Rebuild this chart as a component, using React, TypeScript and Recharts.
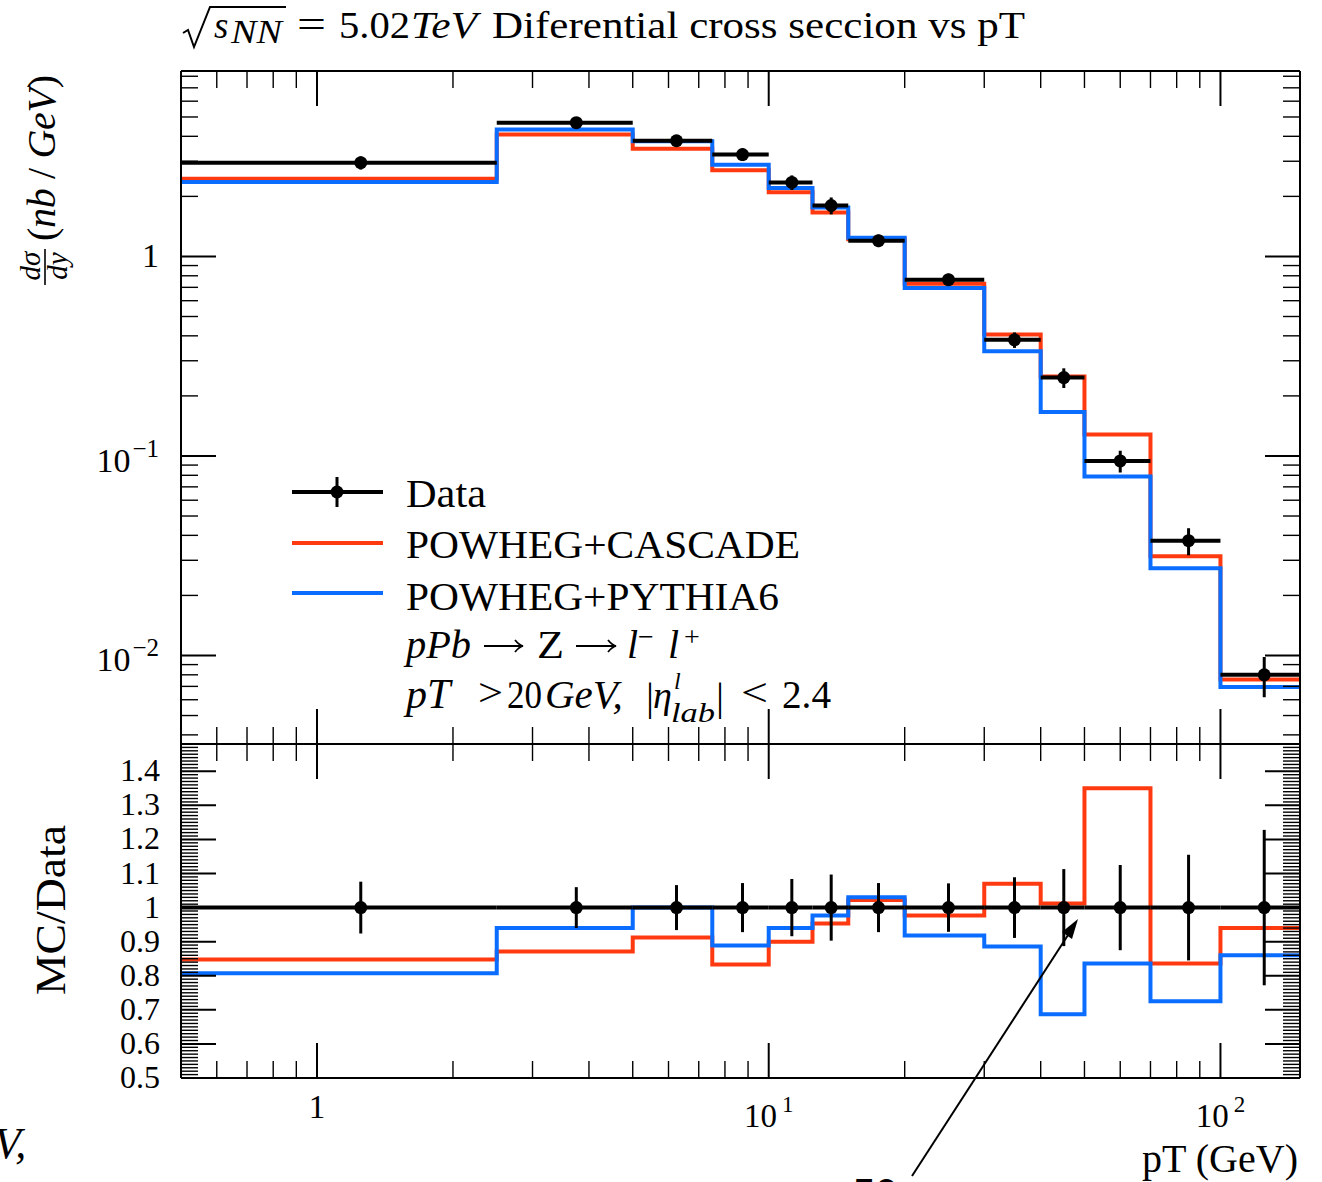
import React from "react";
import { ComposedChart, Line, Scatter, ErrorBar, XAxis, YAxis } from "recharts";

// pT binning in GeV; the first bin starts at 0 but the axis only opens at 0.5
const binEdges = [0, 2.5, 5, 7.5, 10, 12.5, 15, 20, 30, 40, 50, 70, 100, 150];
const binCentres = [1.25, 3.75, 6.25, 8.75, 11.25, 13.75, 17.5, 25, 35, 45, 60, 85, 125];

// dσ/dy in nb/GeV
const dataXsec = [2.95, 4.68, 3.8, 3.24, 2.35, 1.8, 1.2, 0.765, 0.382, 0.247, 0.0944, 0.0376, 0.008];
const dataRelErr = [0.076, 0.06, 0.066, 0.072, 0.084, 0.097, 0.072, 0.071, 0.089, 0.113, 0.125, 0.155, 0.228];
const cascadeXsec = [2.45, 4.09, 3.47, 2.7, 2.1, 1.66, 1.22, 0.73, 0.406, 0.25, 0.128, 0.0314, 0.00758];
const pythiaXsec = [2.36, 4.33, 3.78, 2.88, 2.2, 1.76, 1.24, 0.695, 0.335, 0.166, 0.0788, 0.0274, 0.00695];

// MC / Data
const dataRatio = [1, 1, 1, 1, 1, 1, 1, 1, 1, 1, 1, 1, 1];
const cascadeRatio = [0.848, 0.871, 0.912, 0.833, 0.9, 0.953, 1.022, 0.977, 1.07, 1.012, 1.35, 0.836, 0.94];
const pythiaRatio = [0.807, 0.94, 1.0, 0.889, 0.94, 0.977, 1.03, 0.918, 0.886, 0.687, 0.836, 0.725, 0.86];

// labelled ticks
const xTickValues = [1, 10, 100];
const xTickBase = ["1", "10", "10"];
const xTickExp = ["", "1", "2"];
const xsecTickValues = [0.01, 0.1, 1];
const xsecTickBase = ["10", "10", "1"];
const xsecTickExp = ["−2", "−1", ""];
const ratioTickValues = [0.5, 0.6, 0.7, 0.8, 0.9, 1, 1.1, 1.2, 1.3, 1.4];
const ratioTickLabels = ["0.5", "0.6", "0.7", "0.8", "0.9", "1", "1.1", "1.2", "1.3", "1.4"];

const X_MIN = 0.5;
const X_MAX = 150;
const XSEC_MIN = 0.0036;
const XSEC_MAX = 8.5;
const RATIO_MIN = 0.5;
const RATIO_MAX = 1.48;

const FONT = '"Liberation Serif", "Times New Roman", serif';
const RED = "#ff3a10";
const BLUE = "#0a6dff";
const MAJOR_LEN = 35;
const MINOR_LEN = 17;

// 1..9 x 10^n inside [min, max]
function logTicks(min: number, max: number) {
  const out: number[] = [];
  for (let e = Math.floor(Math.log10(min)); e <= Math.ceil(Math.log10(max)); e++) {
    for (let m = 1; m <= 9; m++) {
      const v = parseFloat((m * Math.pow(10, e)).toPrecision(6));
      if (v >= min && v <= max) out.push(v);
    }
  }
  return out;
}

const xTicks = logTicks(X_MIN, X_MAX);
const xsecTicks = logTicks(XSEC_MIN, XSEC_MAX);
const ratioTicks: number[] = [];
for (let i = 50; i <= 148; i++) ratioTicks.push(i / 100);

const findTick = (list: number[], v: number) =>
  list.findIndex((m) => Math.abs(v - m) <= 1e-6 * Math.max(1, m));

type Side = "left" | "right" | "top" | "bottom";

// inward tick marks, long on the labelled values
function axisTick(
  side: Side,
  majors: number[],
  label?: (v: number, x: number, y: number) => React.ReactNode
) {
  return (props: any) => {
    const { x, y, payload } = props;
    const v = payload.value as number;
    const major = findTick(majors, v) >= 0;
    const len = major ? MAJOR_LEN : MINOR_LEN;
    const dx = side === "left" ? len : side === "right" ? -len : 0;
    const dy = side === "top" ? len : side === "bottom" ? -len : 0;
    return (
      <g>
        <line x1={x} y1={y} x2={x + dx} y2={y + dy} stroke="#000" strokeWidth={major ? 2 : 1.4} />
        {label ? label(v, x, y) : null}
      </g>
    );
  };
}

const xLabel = (v: number, x: number, y: number) => {
  const i = findTick(xTickValues, v);
  if (i < 0) return null;
  return (
    <text x={x} y={y + (xTickExp[i] ? 49 : 40)} textAnchor="middle" fontFamily={FONT} fontSize={33} fill="#000">
      {xTickBase[i]}
      {xTickExp[i] ? (
        <tspan fontSize={23} dx={5} dy={-15}>
          {xTickExp[i]}
        </tspan>
      ) : null}
    </text>
  );
};

const xsecLabel = (v: number, x: number, y: number) => {
  const i = findTick(xsecTickValues, v);
  if (i < 0) return null;
  return (
    <text x={x - 22} y={y + (xsecTickExp[i] ? 16 : 11)} textAnchor="end" fontFamily={FONT} fontSize={34} fill="#000">
      {xsecTickBase[i]}
      {xsecTickExp[i] ? (
        <tspan fontSize={25} dx={2} dy={-15}>
          {xsecTickExp[i]}
        </tspan>
      ) : null}
    </text>
  );
};

const ratioLabel = (v: number, x: number, y: number) => {
  const i = findTick(ratioTickValues, v);
  if (i < 0) return null;
  return (
    <text x={x - 21} y={y + 10} textAnchor="end" fontFamily={FONT} fontSize={32} fill="#000">
      {ratioTickLabels[i]}
    </text>
  );
};

const AXIS_LINE = { stroke: "#000", strokeWidth: 2 };

// four framed axes sharing the log pT scale
function frameAxes(
  yDomain: [number, number],
  yScale: "log" | "linear",
  yTicks: number[],
  yMajors: number[],
  yLabel: (v: number, x: number, y: number) => React.ReactNode,
  bottomHeight: number,
  xBottomLabel?: (v: number, x: number, y: number) => React.ReactNode
) {
  const common = {
    allowDataOverflow: true,
    interval: 0 as const,
    tickSize: 0,
    tickMargin: 0,
    tickLine: false,
    axisLine: AXIS_LINE,
  };
  return [
    <XAxis key="xb" xAxisId="b" orientation="bottom" type="number" scale="log" dataKey="pt"
      domain={[X_MIN, X_MAX]} ticks={xTicks} height={bottomHeight}
      tick={axisTick("bottom", xTickValues, xBottomLabel)} {...common} />,
    <XAxis key="xt" xAxisId="t" orientation="top" type="number" scale="log" dataKey="pt"
      domain={[X_MIN, X_MAX]} ticks={xTicks} height={20}
      tick={axisTick("top", xTickValues)} {...common} />,
    <YAxis key="yl" yAxisId="l" orientation="left" type="number" scale={yScale}
      domain={yDomain} ticks={yTicks} width={100}
      tick={axisTick("left", yMajors, yLabel)} {...common} />,
    <YAxis key="yr" yAxisId="r" orientation="right" type="number" scale={yScale}
      domain={yDomain} ticks={yTicks} width={20}
      tick={axisTick("right", yMajors)} {...common} />,
  ];
}

const steps = (vals: number[]) =>
  vals
    .map((v, i) => ({ pt: Math.max(binEdges[i], X_MIN), v }))
    .concat([{ pt: binEdges[binEdges.length - 1], v: vals[vals.length - 1] }]);

const points = (vals: number[]) =>
  vals.map((v, i) => {
    const lo = Math.max(binEdges[i], X_MIN);
    const x = binCentres[i];
    return { pt: x, v, ex: [x - lo, binEdges[i + 1] - x], ey: v * dataRelErr[i] };
  });

const dot = (props: any) => <circle cx={props.cx} cy={props.cy} r={6.5} fill="#000" />;

function histLine(key: string, vals: number[], color: string) {
  return (
    <Line key={key} data={steps(vals)} dataKey="v" xAxisId="b" yAxisId="l" type="stepAfter"
      stroke={color} strokeWidth={4} dot={false} activeDot={false} isAnimationActive={false} />
  );
}

function dataPoints(vals: number[]) {
  return (
    <Scatter key="data" data={points(vals)} dataKey="v" xAxisId="b" yAxisId="l"
      shape={dot} isAnimationActive={false}>
      <ErrorBar dataKey="ex" direction="x" width={0} stroke="#000" strokeWidth={4} />
      <ErrorBar dataKey="ey" direction="y" width={0} stroke="#000" strokeWidth={3} />
    </Scatter>
  );
}

// text arrow "→" drawn as a stroke so it keeps the long math shape
const mathArrow = (x0: number, x1: number, y: number) => (
  <g stroke="#000" strokeWidth={1.8} fill="none">
    <line x1={x0} y1={y} x2={x1} y2={y} />
    <path d={`M${x1 - 8} ${y - 6} Q${x1 - 4} ${y - 1} ${x1} ${y} Q${x1 - 4} ${y + 1} ${x1 - 8} ${y + 6}`} />
  </g>
);

function Annotations() {
  const it = { fontStyle: "italic" as const };
  const fit = "spacingAndGlyphs";
  return (
    <svg width={1322} height={1182} fontFamily={FONT} fill="#000"
      style={{ position: "absolute", left: 0, top: 0, pointerEvents: "none" }}>
      {/* title */}
      <path d="M183 33 L188 30 L194 47 L210 7 L286 7" fill="none" stroke="#000" strokeWidth={2} />
      <text x={214} y={38} fontSize={37} {...it}>s</text>
      <text x={231} y={43} fontSize={33} textLength={51} lengthAdjust={fit} {...it}>NN</text>
      <text x={297} y={37} fontSize={37} textLength={29} lengthAdjust={fit}>=</text>
      <text x={339} y={38} fontSize={37} textLength={71} lengthAdjust={fit}>5.02</text>
      <text x={411} y={38} fontSize={38} textLength={66} lengthAdjust={fit} {...it}>TeV</text>
      <text x={492} y={38} fontSize={37} textLength={533} lengthAdjust={fit}>
        Diferential cross seccion vs pT
      </text>

      {/* y title, upper panel */}
      <text transform="translate(40,266) rotate(-90)" textAnchor="middle" fontSize={29} {...it}>dσ</text>
      <line x1={45} y1={249} x2={45} y2={285} stroke="#000" strokeWidth={1.6} />
      <text transform="translate(67,266) rotate(-90)" textAnchor="middle" fontSize={29} {...it}>dy</text>
      <text transform="translate(55,158) rotate(-90)" textAnchor="middle" fontSize={40}
        textLength={166} lengthAdjust="spacing">
        (<tspan {...it}>nb</tspan> / <tspan {...it}>GeV</tspan>)
      </text>

      {/* y title, ratio panel */}
      <text transform="translate(65,910) rotate(-90)" textAnchor="middle" fontSize={42}
        textLength={170} lengthAdjust={fit}>MC/Data</text>

      {/* x title */}
      <text x={1142} y={1172} fontSize={40} textLength={156} lengthAdjust={fit}>pT (GeV)</text>

      {/* legend */}
      <line x1={292} y1={492} x2={383} y2={492} stroke="#000" strokeWidth={4} />
      <line x1={337} y1={477} x2={337} y2={507} stroke="#000" strokeWidth={3} />
      <circle cx={337} cy={492} r={6.5} fill="#000" />
      <text x={406} y={507} fontSize={40} textLength={80} lengthAdjust={fit}>Data</text>
      <line x1={292} y1={543} x2={383} y2={543} stroke={RED} strokeWidth={4} />
      <text x={406} y={558} fontSize={40} textLength={394} lengthAdjust={fit}>POWHEG+CASCADE</text>
      <line x1={292} y1={593} x2={383} y2={593} stroke={BLUE} strokeWidth={4} />
      <text x={406} y={610} fontSize={40} textLength={373} lengthAdjust={fit}>POWHEG+PYTHIA6</text>

      <text x={406} y={658} fontSize={40} textLength={65} lengthAdjust={fit} {...it}>pPb</text>
      {mathArrow(484, 523, 646)}
      <text x={537} y={658} fontSize={40} textLength={27} lengthAdjust={fit}>Z</text>
      {mathArrow(576, 616, 646)}
      <text x={627} y={658} fontSize={40} {...it}>l</text>
      <text x={638} y={646} fontSize={28}>−</text>
      <text x={668} y={658} fontSize={40} {...it}>l</text>
      <text x={684} y={646} fontSize={28}>+</text>

      <text x={406} y={708} fontSize={42} {...it}>pT</text>
      <text x={478} y={706} fontSize={40} textLength={25} lengthAdjust={fit}>&gt;</text>
      <text x={507} y={708} fontSize={40} textLength={35} lengthAdjust={fit}>20</text>
      <text x={545} y={708} fontSize={41} {...it}>GeV,</text>
      <text x={646} y={710} fontSize={40}>|</text>
      <text x={653} y={708} fontSize={38} {...it}>η</text>
      <text x={674} y={689} fontSize={24} {...it}>l</text>
      <text x={671} y={722} fontSize={28} textLength={44} lengthAdjust={fit} {...it}>lab</text>
      <text x={716} y={710} fontSize={40}>|</text>
      <text x={741} y={706} fontSize={40} textLength={27} lengthAdjust={fit}>&lt;</text>
      <text x={782} y={708} fontSize={40} textLength={49} lengthAdjust={fit}>2.4</text>

      {/* pointer arrow and page leftovers */}
      <line x1={912} y1={1176} x2={1070} y2={932} stroke="#000" strokeWidth={2} />
      <polygon points="1078,919 1072,939 1062,932" fill="#000" />
      <text x={853} y={1207} fontSize={40} fontFamily='"Liberation Sans", sans-serif'>50</text>
      <text x={-6} y={1158} fontSize={44} {...it}>V,</text>
    </svg>
  );
}

export default function App() {
  return (
    <div style={{ position: "absolute", left: 0, top: 0, width: 1322, height: 1182, overflow: "hidden", background: "#fff" }}>
      <div style={{ position: "absolute", left: 0, top: 0 }}>
        <ComposedChart width={1322} height={760} margin={{ top: 51, right: 2, bottom: 6, left: 81 }}>
          {frameAxes([XSEC_MIN, XSEC_MAX], "log", xsecTicks, xsecTickValues, xsecLabel, 10)}
          {histLine("cascade", cascadeXsec, RED)}
          {histLine("pythia", pythiaXsec, BLUE)}
          {dataPoints(dataXsec)}
        </ComposedChart>
      </div>
      <div style={{ position: "absolute", left: 0, top: 700 }}>
        <ComposedChart width={1322} height={482} margin={{ top: 24, right: 2, bottom: 44, left: 81 }}>
          {frameAxes([RATIO_MIN, RATIO_MAX], "linear", ratioTicks, ratioTickValues, ratioLabel, 60, xLabel)}
          {histLine("cascade", cascadeRatio, RED)}
          {histLine("pythia", pythiaRatio, BLUE)}
          {dataPoints(dataRatio)}
        </ComposedChart>
      </div>
      <Annotations />
    </div>
  );
}
